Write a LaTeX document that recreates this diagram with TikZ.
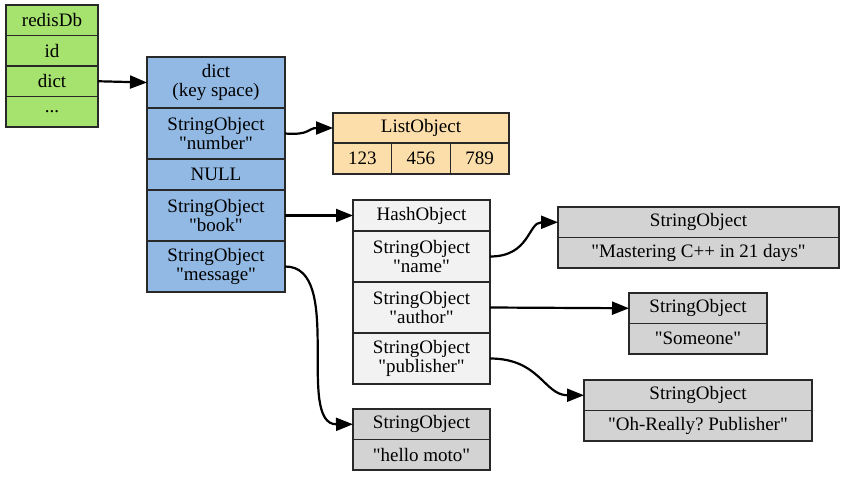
\documentclass[tikz,border=0pt]{standalone}
\usepackage{fontspec}
\setmainfont{Liberation Serif}
\usetikzlibrary{positioning, arrows.meta}
\definecolor{dbgreen}{RGB}{166,227,110}
\definecolor{keyblue}{RGB}{146,185,228}
\definecolor{listtan}{RGB}{252,222,170}
\definecolor{hashgray}{RGB}{242,242,242}
\definecolor{strgray}{RGB}{211,211,211}
\definecolor{rim}{RGB}{40,40,40}
\newcommand{\qstr}[1]{\textquotedbl#1\textquotedbl}
\frenchspacing

\begin{document}
\begin{tikzpicture}[x=0.5pt, y=-0.5pt,
  cell/.style={draw=rim, line width=0.6pt, inner sep=0pt, outer sep=0pt, align=center, anchor=north, font=\fontsize{9.5}{9.6}\selectfont},
  db/.style={cell, fill=dbgreen, minimum width=46pt, minimum height=15.25pt},
  key/.style={cell, fill=keyblue, minimum width=69pt, minimum height=25.5pt},
  keynull/.style={key, minimum height=15.5pt},
  lst/.style={cell, fill=listtan, minimum width=88pt, minimum height=15pt},
  lstitem/.style={cell, fill=listtan, anchor=north west, minimum width=29.33pt, minimum height=15.5pt},
  hsh/.style={cell, fill=hashgray, minimum width=68.5pt, minimum height=25.5pt},
  hshhead/.style={hsh, minimum height=15.5pt},
  str/.style={cell, fill=strgray, minimum height=15.25pt},
  arr/.style={-{Triangle[length=8.5pt,width=6.5pt]}, line width=1.1pt}]
\useasboundingbox (0,0) rectangle (845,476);
% redisDb
\node[db] (dbhead) at (52,5) {redisDb};
\node[db, below=0pt of dbhead] (dbid) {id};
\node[db, below=0pt of dbid] (dbdict) {dict};
\node[db, below=0pt of dbdict] (dbmore) {...};
% key space
\node[key] (dhead) at (216,57) {dict\\(key space)};
\node[key, below=0pt of dhead] (knumber) {StringObject\\\qstr{number}};
\node[keynull, below=0pt of knumber] (knull) {NULL};
\node[key, below=0pt of knull] (kbook) {StringObject\\\qstr{book}};
\node[key, below=0pt of kbook] (kmessage) {StringObject\\\qstr{message}};
% list
\node[lst] (lhead) at (421,113) {ListObject};
\node[lstitem] (l1) at (lhead.south west) {123};
\node[lstitem, right=0pt of l1] (l2) {456};
\node[lstitem, right=0pt of l2] (l3) {789};
% hash
\node[hshhead] (hhead) at (421.5,200) {HashObject};
\node[hsh, below=0pt of hhead] (hname) {StringObject\\\qstr{name}};
\node[hsh, below=0pt of hname] (hauthor) {StringObject\\\qstr{author}};
\node[hsh, below=0pt of hauthor] (hpub) {StringObject\\\qstr{publisher}};
% strings
\node[str, minimum width=140.5pt] (mhead) at (698.5,207) {StringObject};
\node[str, minimum width=140.5pt, below=0pt of mhead] (mval) {\qstr{Mastering C++ in 21 days}};
\node[str, minimum width=69pt] (shead) at (698,293) {StringObject};
\node[str, minimum width=69pt, below=0pt of shead] (sval) {\qstr{Someone}};
\node[str, minimum width=114pt] (ohead) at (698,380) {StringObject};
\node[str, minimum width=114pt, below=0pt of ohead] (oval) {\qstr{Oh-Really? Publisher}};
\node[str, minimum width=68.5pt] (mohead) at (421.5,409) {StringObject};
\node[str, minimum width=68.5pt, below=0pt of mohead] (moval) {\qstr{hello moto}};
% pointers
\draw[arr] (dbdict.east) -- (dhead.west);
\draw[arr] (knumber.east) .. controls +(25,2) and +(-25,0) .. (lhead.west);
\draw[arr] (kbook.east) -- (hhead.west);
\draw[arr] (kmessage.east) .. controls (345,266) and (295,424.5) .. (mohead.west);
\draw[arr] (hname.east) .. controls +(40,0) and +(-30,0) .. (mhead.west);
\draw[arr] (hauthor.east) -- (shead.west);
\draw[arr] (hpub.east) .. controls +(50,0) and +(-40,0) .. (ohead.west);
\end{tikzpicture}
\end{document}
